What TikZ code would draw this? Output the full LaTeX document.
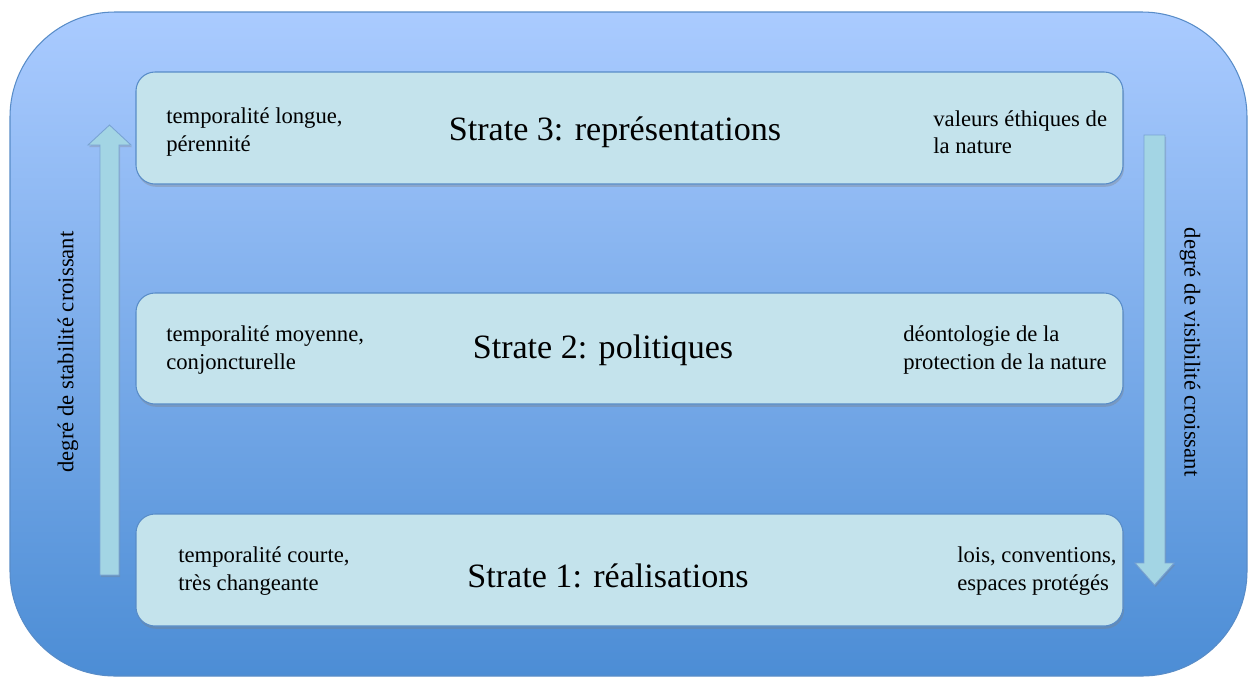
\documentclass[tikz,border=0pt]{standalone}
\usepackage{fontspec}
\setmainfont{Liberation Serif}
\usetikzlibrary{shadows}

\definecolor{fondhaut}{RGB}{170,203,255}
\definecolor{fondbas}{RGB}{76,141,213}
\definecolor{bord}{RGB}{88,140,200}
\definecolor{strate}{RGB}{196,227,236}
\definecolor{fleche}{RGB}{163,213,228}

\begin{document}
\begin{tikzpicture}[x=0.02cm,y=-0.02cm,
  stratebox/.style={draw=bord,fill=strate,rounded corners=0.38cm,line width=0.6pt,
    drop shadow={opacity=0.35,shadow xshift=0.6pt,shadow yshift=-1.6pt}},
  titre/.style={font=\fontsize{19.4}{23}\selectfont},
  note/.style={font=\fontsize{12.9}{15.5}\selectfont,align=left,inner sep=0pt},
  flechebox/.style={draw=bord!80,fill=fleche,line width=0.5pt,
    drop shadow={opacity=0.3,shadow xshift=0.6pt,shadow yshift=-1.2pt}}]
\useasboundingbox (0,0) rectangle (1248,677);
\clip (0,0) rectangle (1248,677);
% fond
\shade[top color=fondhaut,bottom color=fondbas,draw=bord,line width=0.6pt,
  rounded corners=2.1cm] (10,12) rectangle (1247,676);

% strates
\filldraw[stratebox] (136,72) rectangle (1123,184);
\filldraw[stratebox] (136,293) rectangle (1123,404);
\filldraw[stratebox] (136,514) rectangle (1123,626);

\node[titre] (titre3) at (615,132) {Strate 3: représentations};
\node[titre] (titre2) at (603,350) {Strate 2: politiques};
\node[titre] (titre1) at (608,576) {Strate 1: réalisations};

\node[note,anchor=west] (temps3) at (166,132) {temporalité longue,\\pérennité};
\node[note,anchor=west] (temps2) at (166,350) {temporalité moyenne,\\conjoncturelle};
\node[note,anchor=west] (temps1) at (178,571) {temporalité courte,\\très changeante};

\node[note,anchor=west] (norme3) at (933,132) {valeurs éthiques de\\la nature};
\node[note,anchor=west] (norme2) at (903,350) {déontologie de la\\protection de la nature};
\node[note,anchor=west] (norme1) at (957,571) {lois, conventions,\\espaces protégés};

% fleches
\filldraw[flechebox] (100,575) -- (100,145) -- (88,145) -- (109.5,125) -- (131,145)
  -- (119,145) -- (119,575) -- cycle;
\filldraw[flechebox] (1144,135) -- (1144,563) -- (1135,563) -- (1154.5,585) -- (1174,563)
  -- (1165,563) -- (1165,135) -- cycle;

\node[note,rotate=90] (stabilite) at (68,352) {degré de stabilité croissant};
\node[note,rotate=-90] (visibilite) at (1190,352) {degré de visibilité croissant};
%\node at (624,20) {};
\end{tikzpicture}
\end{document}
